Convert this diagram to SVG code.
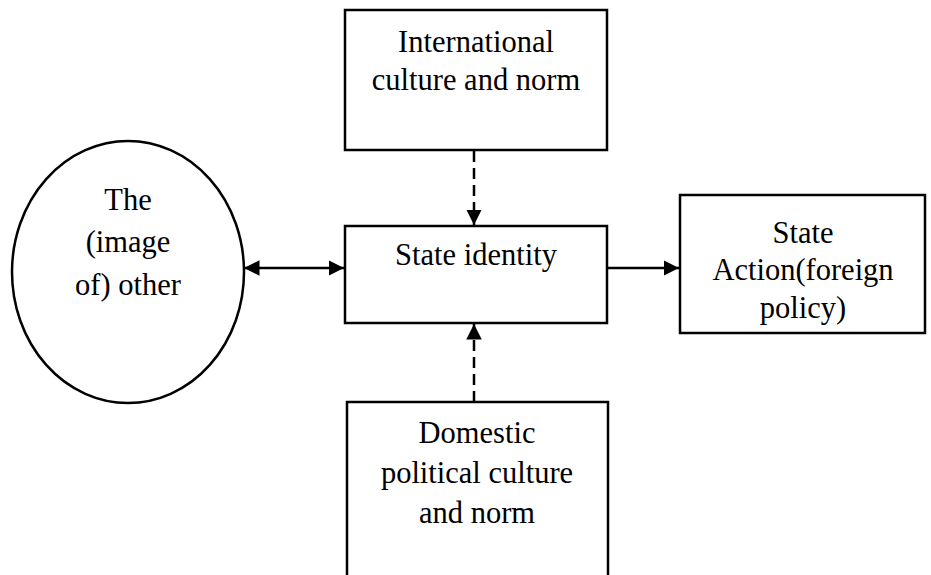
<svg xmlns="http://www.w3.org/2000/svg" width="931" height="575" viewBox="0 0 931 575">
<style>
.box{fill:#fff;stroke:#000;stroke-width:2.5}
.t{font-family:"Liberation Serif","Times New Roman",serif;font-size:30.5px;fill:#000;text-anchor:middle}
.c{stroke:#000;stroke-width:2.5;fill:none}
.d{stroke-dasharray:11,6}
</style>
<defs>
<marker id="ah" viewBox="0 0 10 10" refX="10" refY="5" markerWidth="6.2" markerHeight="6.2" orient="auto-start-reverse" markerUnits="strokeWidth">
<path d="M0,0 L10,5 L0,10 z" fill="#000"/>
</marker>
</defs>
<rect width="931" height="575" fill="#fff"/>
<g id="connectors">
<line class="c" x1="244" y1="268" x2="344" y2="268" marker-start="url(#ah)" marker-end="url(#ah)"/>
<line class="c" x1="607" y1="268" x2="679" y2="268" marker-end="url(#ah)"/>
<line class="c d" x1="474" y1="151" x2="474" y2="225" marker-end="url(#ah)"/>
<line class="c d" x1="474" y1="402" x2="474" y2="324" marker-end="url(#ah)"/>
</g>
<g id="international">
<rect class="box" x="345" y="10" width="262" height="140"/>
<text class="t" x="476" y="52">International</text>
<text class="t" x="476" y="90">culture and norm</text>
</g>
<g id="other">
<ellipse class="box" cx="128" cy="272" rx="116" ry="131"/>
<text class="t" x="128" y="210">The</text>
<text class="t" x="128" y="252">(image</text>
<text class="t" x="128" y="295">of) other</text>
</g>
<g id="identity">
<rect class="box" x="345" y="226" width="262" height="97"/>
<text class="t" x="476" y="265">State identity</text>
</g>
<g id="action">
<rect class="box" x="680" y="195" width="245" height="138"/>
<text class="t" x="803" y="243">State</text>
<text class="t" x="803" y="280">Action(foreign</text>
<text class="t" x="803" y="318">policy)</text>
</g>
<g id="domestic">
<rect class="box" x="347" y="402" width="261" height="190"/>
<text class="t" x="477" y="443">Domestic</text>
<text class="t" x="477" y="483">political culture</text>
<text class="t" x="477" y="523">and norm</text>
</g>
</svg>
